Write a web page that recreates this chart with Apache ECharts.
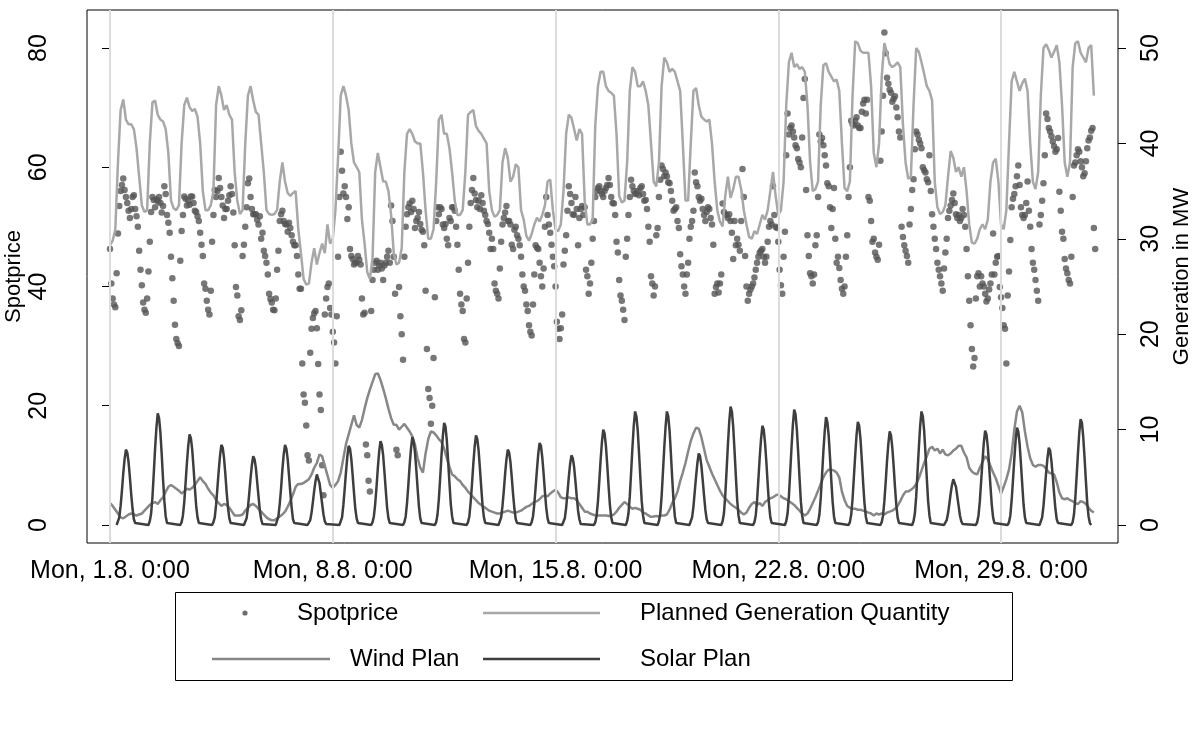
<!DOCTYPE html>
<html><head><meta charset="utf-8">
<script src="https://cdn.jsdelivr.net/npm/echarts@6/dist/echarts.min.js"></script>
<style>html,body{margin:0;padding:0;background:#fff}#c{width:1199px;height:738px}</style>
</head><body><div id="c"></div>
<script>
// ---- axis ticks ----
const tickHours = [0, 168, 336, 504, 672];
const tickLabels = ['Mon, 1.8. 0:00', 'Mon, 8.8. 0:00', 'Mon, 15.8. 0:00', 'Mon, 22.8. 0:00', 'Mon, 29.8. 0:00'];
const priceTicks = [0, 20, 40, 60, 80];
const genTicks = [0, 10, 20, 30, 40, 50];

// ---- Spotprice, hourly from Mon 1.8. 0:00 (one row per day) ----
const spotprice = [
46.3,40.5,38.0,37.0,36.5,42.2,48.9,53.5,56.0,57.0,58.1,56.2,55.0,54.0,52.7,51.5,53.0,55.0,55.3,53.0,51.8,50.0,46.0,42.8,
40.2,37.3,36.1,35.6,38.0,42.5,47.5,52.5,55.0,54.5,53.3,54.6,54.3,55.0,54.0,52.4,53.5,56.8,55.5,52.0,50.7,49.0,45.0,41.4,
37.6,33.6,31.2,30.5,30.0,44.3,49.3,52.0,55.1,54.7,53.6,54.4,53.7,55.1,55.1,54.0,52.7,52.5,51.8,51.0,49.0,47.0,45.1,40.5,
39.6,37.6,36.1,35.3,39.3,47.5,52.0,56.2,55.0,56.0,58.2,56.5,55.0,53.6,51.5,53.0,53.0,54.4,55.3,56.8,55.5,52.4,46.9,39.9,
38.5,35.0,34.4,36.0,45.1,47.0,50.0,53.3,57.3,58.1,55.0,53.0,52.1,52.1,52.1,51.2,50.4,51.8,48.0,49.0,46.0,45.1,44.0,42.0,
38.8,37.9,37.3,36.1,36.0,38.0,42.8,46.0,51.0,52.1,52.7,51.0,50.5,50.4,49.2,50.7,49.8,48.6,47.5,46.9,46.9,45.1,42.0,39.6,
39.6,27.1,21.9,20.5,16.7,11.7,10.8,28.9,32.9,34.7,35.5,35.9,33.0,27.0,21.9,19.3,10.0,5.0,35.3,38.0,39.9,40.5,36.4,35.3,
32.4,30.6,27.1,35.0,45.0,55.0,62.6,59.4,55.6,56.8,55.0,51.3,53.3,46.3,45.1,44.6,43.7,44.0,44.0,45.1,44.5,43.7,38.0,35.3,
35.6,13.5,11.7,7.4,5.6,35.9,41.1,42.8,44.0,44.3,42.8,43.5,44.0,43.0,41.1,43.5,44.0,45.0,46.0,44.0,53.6,51.0,45.0,38.8,
12.6,11.7,39.9,35.0,32.0,27.7,45.0,50.0,52.1,53.3,53.9,52.5,54.4,53.0,49.8,51.0,51.5,52.5,50.5,49.5,49.2,46.9,39.3,29.5,
22.8,21.3,17.0,20.0,28.0,38.2,51.0,53.3,52.1,53.3,53.0,50.4,49.8,50.5,48.0,46.9,51.5,51.0,53.3,53.3,52.7,50.0,47.0,42.8,
38.8,37.0,35.9,31.2,30.6,38.0,44.0,50.0,54.0,56.2,58.2,55.6,54.5,53.3,54.4,53.0,55.3,54.0,52.7,52.0,51.0,50.5,49.0,46.3,
48.0,46.3,40.5,39.3,38.8,38.0,43.0,47.5,50.4,51.5,52.4,53.5,51.0,51.0,50.4,47.0,46.3,49.5,50.0,48.6,48.0,46.9,45.0,42.0,
40.0,39.3,37.0,35.9,33.5,32.4,31.8,37.0,42.0,46.9,46.5,46.3,44.0,41.7,40.0,43.0,50.0,55.0,52.0,50.4,49.0,47.0,45.0,43.4,
40.0,34.1,32.9,31.2,33.0,35.3,43.7,46.0,48.6,52.7,56.8,55.5,54.0,52.1,52.0,55.0,53.0,46.9,51.5,53.0,53.5,52.0,53.3,42.8,
41.7,38.8,40.5,44.0,48.0,51.0,55.0,56.0,56.5,56.8,56.0,55.5,55.0,56.0,56.5,57.0,58.2,57.0,55.0,54.0,53.9,52.0,47.5,45.7,
41.1,38.5,37.6,36.1,34.4,45.0,48.0,52.0,55.0,57.9,56.8,56.0,55.5,55.6,56.0,55.3,56.5,56.8,55.5,54.4,54.5,53.0,50.0,47.5,
41.7,40.5,38.5,40.0,48.6,49.8,55.0,57.9,60.3,59.7,58.5,59.1,58.5,57.5,57.3,56.0,54.4,52.7,53.0,53.3,51.0,49.8,45.4,43.4,
42.0,40.0,38.8,42.0,44.0,48.0,50.0,51.0,52.7,59.1,57.5,56.8,55.0,54.4,54.7,53.0,52.0,51.0,52.5,53.3,53.0,51.5,50.4,47.0,
38.8,39.9,40.5,39.0,40.5,42.0,53.9,52.5,52.1,52.0,51.5,52.1,51.0,49.0,44.6,51.0,46.9,48.0,47.0,46.0,51.0,59.7,55.0,45.1,
40.0,37.6,38.8,39.5,40.0,40.5,41.5,42.8,44.0,45.0,45.7,46.0,46.3,45.0,44.0,45.0,47.5,50.0,51.0,50.4,56.8,52.0,50.0,49.8,
47.5,42.8,40.2,38.8,45.0,49.2,62.0,69.0,65.5,66.6,67.0,66.0,65.0,63.7,63.2,61.4,60.8,60.0,65.0,71.6,74.8,56.2,48.6,45.1,
42.2,41.7,40.5,42.0,46.9,48.6,55.0,65.5,64.3,64.9,63.7,62.0,60.3,57.3,56.8,53.3,49.8,53.0,56.5,48.0,44.0,45.0,43.1,41.1,
39.6,38.8,40.0,45.0,48.6,55.0,60.0,67.8,67.2,67.0,67.8,68.4,67.0,66.6,66.6,69.3,70.7,71.3,69.0,71.3,55.0,54.4,51.0,47.5,
48.0,45.7,45.0,44.5,47.0,61.1,66.0,72.0,82.6,79.1,75.0,74.0,73.0,72.5,71.0,71.5,71.9,70.0,68.4,66.0,65.0,50.0,48.3,46.9,
46.0,45.1,44.0,50.4,53.0,56.2,58.0,63.0,66.0,65.5,64.6,64.0,63.2,60.0,59.5,59.1,58.0,57.5,62.0,56.0,52.1,50.0,48.0,46.3,
44.0,42.8,41.7,40.5,39.3,43.0,45.7,48.0,51.5,52.7,53.6,54.5,55.6,54.0,52.1,51.5,52.0,51.0,51.5,53.0,52.0,50.0,46.3,41.7,
37.6,33.5,29.5,26.6,28.0,38.0,41.7,42.2,40.0,41.7,40.5,40.0,38.8,37.5,38.0,39.5,40.5,42.0,48.9,42.0,44.0,45.0,45.1,39.9,
38.2,36.4,33.5,32.9,27.1,38.5,42.5,47.8,53.3,54.7,55.5,56.8,58.5,60.3,57.0,53.3,52.0,51.5,52.0,54.0,57.6,52.7,50.0,46.3,
44.0,42.8,41.1,39.3,37.6,50.4,52.0,54.4,57.3,62.0,69.0,68.1,66.6,66.0,65.2,64.3,63.5,62.6,63.0,64.9,55.9,52.7,49.2,48.0,
44.6,43.0,42.2,41.1,40.5,45.0,55.0,60.3,60.8,62.0,63.0,62.6,61.0,60.0,58.5,59.0,61.0,63.2,64.5,65.0,66.1,66.6,49.8,46.3
];

// ---- Planned Generation Quantity (MW), every 2 hours (one row per day) ----
const plannedGen = [
29.3,29.8,31.0,38.0,43.5,44.6,42.5,42.0,42.0,41.5,39.5,36.5,
33.5,32.8,33.0,40.0,44.3,44.5,43.0,42.5,42.3,41.5,39.0,34.0,
33.2,33.0,33.5,40.0,44.0,44.8,43.8,43.4,43.6,42.8,40.0,35.0,
33.0,33.0,33.5,35.0,44.0,46.0,45.0,43.5,44.0,43.0,42.5,37.0,
34.0,32.6,33.0,40.0,45.0,46.0,44.5,43.3,43.0,40.0,37.0,33.0,
32.6,32.5,32.6,33.0,36.0,38.0,36.0,34.8,34.5,34.8,35.0,31.0,
28.5,25.8,25.2,25.3,27.5,29.0,27.3,28.5,29.5,28.5,31.5,29.5,
30.0,33.0,38.5,45.0,46.0,45.0,43.5,40.0,38.0,37.5,37.0,32.0,
29.5,26.5,25.8,28.0,37.0,39.0,37.5,36.0,36.0,35.0,32.5,28.5,
27.3,27.5,29.0,37.0,41.0,41.5,41.0,40.2,40.0,40.0,37.0,33.0,
30.0,30.0,31.0,36.0,42.5,43.0,41.0,41.0,39.5,37.0,34.0,32.5,
32.5,33.0,37.0,43.0,43.3,43.5,41.8,41.3,41.0,40.5,40.0,35.0,
33.0,32.3,32.5,33.0,38.0,39.5,38.5,36.0,36.5,37.8,37.5,33.0,
32.0,30.3,29.8,30.5,31.5,32.2,31.8,32.5,33.5,36.0,36.2,33.0,
31.0,30.8,31.5,35.0,41.0,43.0,42.7,41.5,40.3,41.5,41.0,34.0,
31.5,31.5,32.0,42.0,46.0,47.5,47.5,46.0,45.5,45.3,45.0,41.0,
34.5,33.8,34.0,38.0,45.5,48.0,47.5,46.0,46.0,46.5,45.5,44.0,
40.0,36.0,35.5,38.0,46.0,49.0,48.5,47.5,47.8,47.5,46.5,45.5,
40.0,34.0,34.0,40.0,45.5,45.8,44.0,42.8,42.5,42.3,42.5,40.0,
36.0,33.0,31.8,31.3,34.5,36.5,34.3,35.2,36.5,36.5,35.2,33.0,
31.5,30.2,30.0,30.8,30.5,31.5,32.5,32.0,33.0,35.0,37.0,34.5,
32.5,33.0,36.0,44.0,48.5,49.5,48.0,48.3,47.8,48.0,47.5,44.0,
38.0,35.0,35.2,36.0,44.0,48.2,48.4,47.5,47.0,46.5,46.7,45.5,
40.0,35.3,35.0,36.0,45.0,50.7,50.5,49.7,49.5,49.5,49.5,46.0,
39.0,37.5,40.0,47.0,50.5,49.5,48.3,48.0,48.2,48.5,48.0,42.0,
38.0,36.3,36.5,44.0,50.0,49.6,48.5,47.3,46.0,45.5,44.5,36.0,
33.3,32.6,32.8,33.5,36.5,39.2,38.5,37.0,37.5,36.5,37.5,35.0,
31.5,29.6,29.5,30.0,31.0,31.5,31.0,32.0,36.0,38.0,38.4,36.0,
31.5,31.0,33.0,40.0,46.5,47.5,46.5,45.5,46.3,46.8,45.5,40.0,
36.0,35.2,37.0,45.0,50.0,50.4,49.8,49.0,49.6,50.3,48.5,44.0,
38.0,36.5,38.0,48.0,50.5,50.7,49.5,49.0,48.5,50.0,50.3,45.0
];

// ---- Wind Plan (MW), every 2 hours ----
const windPlan = [
2.3,2.0,1.6,1.2,0.8,0.7,0.9,1.1,1.2,1.1,1.0,1.1,
1.2,1.5,1.8,2.1,2.3,2.4,2.2,2.6,2.9,3.5,4.0,4.2,
4.0,3.8,3.6,3.3,3.5,3.8,3.7,3.9,4.2,4.6,5.0,4.6,
4.3,3.8,3.4,3.1,2.6,2.3,2.0,2.2,2.1,1.8,1.4,1.0,
1.0,1.0,1.1,1.5,1.8,2.1,2.2,2.0,1.7,1.4,1.1,0.8,
0.6,0.5,0.5,0.7,0.9,1.1,1.4,1.9,2.5,3.2,4.0,4.3,
4.3,4.4,4.6,4.8,5.3,6.0,6.5,7.4,7.2,6.2,5.2,4.2,
3.9,4.2,4.6,5.5,7.0,8.5,9.5,10.5,11.5,10.5,10.2,11.0,
12.2,13.3,14.2,15.0,15.8,15.9,15.2,14.3,13.3,12.2,11.2,10.5,
10.5,10.0,10.3,10.6,10.2,9.8,9.3,8.4,7.0,6.0,5.5,7.5,
9.0,9.8,9.7,9.4,9.0,8.7,8.0,7.0,6.1,5.3,5.1,4.8,
4.6,4.2,3.9,3.5,3.2,2.9,2.6,2.3,2.1,1.9,1.7,1.5,
1.4,1.3,1.2,1.2,1.3,1.4,1.5,1.4,1.3,1.3,1.4,1.5,
1.7,1.9,2.0,2.2,2.4,2.5,2.7,3.0,3.1,3.0,3.3,3.5,
3.7,3.4,2.9,2.8,2.8,2.9,2.8,2.8,2.6,2.2,1.8,1.4,
1.4,1.2,1.1,1.0,1.0,1.0,1.0,1.0,0.95,1.0,1.1,1.4,
1.8,2.1,2.4,2.2,1.9,1.7,1.8,1.7,1.6,1.3,1.2,1.0,
0.85,0.9,0.95,0.9,1.0,1.0,1.1,1.6,2.3,2.8,3.5,4.6,
5.5,6.5,7.7,8.8,9.6,10.2,10.1,9.2,8.0,6.8,6.1,5.4,
4.8,4.2,3.6,3.1,2.8,2.5,2.2,2.0,1.8,1.6,1.3,1.1,
1.3,1.8,2.2,2.4,2.1,2.3,2.0,2.4,2.6,2.8,2.9,3.1,
3.2,3.0,2.8,2.7,2.5,2.3,2.1,1.8,1.5,1.2,1.0,1.2,
1.7,2.3,2.9,3.6,4.3,5.0,5.5,5.8,5.8,5.7,5.5,5.0,
3.5,2.6,2.0,1.8,1.7,1.7,1.6,1.6,1.5,1.4,1.3,1.2,
1.0,1.2,1.1,1.2,1.1,1.3,1.4,1.5,1.7,2.0,2.5,3.1,
3.5,3.5,3.7,3.9,4.3,4.9,5.7,6.5,7.2,8.0,8.2,7.8,
8.0,7.5,7.9,7.4,7.3,7.5,7.8,8.0,8.3,8.3,7.6,7.1,
6.0,5.6,5.4,5.3,6.0,6.6,7.2,6.9,6.2,5.5,4.9,4.1,
3.3,4.0,4.8,5.8,7.5,10.0,11.9,12.5,11.8,9.8,8.2,7.0,
6.3,6.1,6.3,6.3,6.2,5.9,5.5,5.4,5.3,4.5,3.4,2.8,
2.7,2.8,2.6,2.5,2.3,2.2,2.5,2.4,2.2,1.8,1.5,1.3
];

// ---- Solar Plan (MW), hourly from 5:00 to 20:00 of each day ----
const solarFirstHour = 5;
const solarPlan = [
[0,0.2,0.8,2.0,3.6,5.4,6.9,7.9,7.6,6.6,5.0,3.2,1.7,0.6,0.2,0],
[0,0.4,1.2,2.9,5.4,8.0,10.2,11.7,11.2,9.7,7.4,4.8,2.5,0.9,0.2,0],
[0,0.3,1.0,2.4,4.4,6.5,8.3,9.5,9.1,7.9,6.0,3.9,2.0,0.8,0.2,0],
[0,0.3,0.8,2.1,3.9,5.7,7.3,8.4,8.1,7.0,5.3,3.4,1.8,0.7,0.2,0],
[0,0.2,0.7,1.8,3.3,4.9,6.3,7.2,6.9,6.0,4.5,3.0,1.5,0.6,0.1,0],
[0,0.2,0.9,2.2,3.8,5.8,7.4,8.4,8.0,6.9,5.2,3.4,1.8,0.6,0.2,0],
[0,0.2,0.5,1.3,2.4,3.6,4.6,5.3,5.1,4.4,3.3,2.2,1.1,0.4,0.1,0],
[0,0.2,0.8,2.1,3.8,5.6,7.2,8.3,8.0,6.9,5.2,3.4,1.7,0.7,0.2,0],
[0,0.3,0.9,2.2,4.0,6.0,7.7,8.8,8.4,7.3,5.5,3.6,1.8,0.7,0.2,0],
[0,0.3,0.9,2.3,4.2,6.3,8.0,9.2,8.8,7.6,5.8,3.8,1.9,0.7,0.2,0],
[0,0.3,1.1,2.7,4.9,7.3,9.3,10.7,10.3,8.9,6.7,4.4,2.2,0.9,0.2,0],
[0,0.3,0.9,2.4,4.3,6.4,8.2,9.4,9.0,7.8,5.9,3.9,2.0,0.8,0.2,0],
[0,0.2,0.8,2.0,3.6,5.4,6.9,7.9,7.6,6.6,5.0,3.2,1.7,0.6,0.2,0],
[0,0.3,0.9,2.2,4.0,5.8,7.5,8.6,8.3,7.1,5.4,3.5,1.8,0.7,0.2,0],
[0,0.2,0.7,1.8,3.4,5.0,6.4,7.3,7.0,6.1,4.6,3.0,1.5,0.6,0.1,0],
[0,0.3,1.0,2.5,4.6,6.8,8.7,10.0,9.6,8.3,6.3,4.1,2.1,0.8,0.2,0],
[0,0.4,1.2,3.0,5.5,8.1,10.4,11.9,11.4,9.9,7.5,4.9,2.5,1.0,0.2,0],
[0,0.4,1.2,3.0,5.5,8.1,10.3,11.9,11.4,9.9,7.5,4.9,2.5,0.9,0.2,0],
[0,0.2,0.8,1.9,3.5,5.1,6.5,7.5,7.2,6.2,4.7,3.1,1.6,0.6,0.2,0],
[0,0.4,1.2,3.1,5.7,8.4,10.8,12.4,11.9,10.3,7.8,5.1,2.6,1.0,0.2,0],
[0,0.3,1.0,2.6,4.8,7.1,9.0,10.4,10.0,8.6,6.6,4.3,2.2,0.8,0.2,0],
[0,0.4,1.2,3.0,5.6,8.2,10.5,12.1,11.6,10.0,7.6,5.0,2.5,1.0,0.2,0],
[0,0.3,1.1,2.8,5.2,7.7,9.8,11.3,10.8,9.4,7.1,4.6,2.4,0.9,0.2,0],
[0,0.3,1.1,2.7,5.0,7.3,9.4,10.8,10.4,9.0,6.8,4.4,2.3,0.9,0.2,0],
[0,0.3,1.0,2.5,4.5,6.7,8.5,9.8,9.4,8.1,6.2,4.0,2.1,0.8,0.2,0],
[0,0.4,1.2,3.0,5.5,8.1,10.4,11.9,11.4,9.9,7.5,4.9,2.5,1.0,0.2,0],
[0,0.1,0.5,1.2,2.2,3.3,4.2,4.8,4.6,4.0,3.0,2.0,1.0,0.4,0.1,0],
[0,0.3,1.0,2.5,4.6,6.7,8.6,9.9,9.5,8.2,6.2,4.1,2.1,0.8,0.2,0],
[0,0.3,1.0,2.6,4.7,6.9,8.9,10.2,9.8,8.5,6.4,4.2,2.1,0.8,0.2,0],
[0,0.2,0.8,2.0,3.7,5.5,7.0,8.1,7.8,6.7,5.1,3.3,1.7,0.6,0.2,0],
[0,0.3,1.1,2.8,5.1,7.5,9.7,11.1,10.7,9.2,7.0,4.6,2.3,0.9,0.2,0]
];

// ---- legend entries ----
const legendNames = ['Spotprice', 'Planned Generation Quantity', 'Wind Plan', 'Solar Plan'];

// ---- build series data (x = hours since Mon 1.8. 0:00) ----
const spotData = spotprice.map((v, i) => [i, v]);
const pgData = plannedGen.map((v, i) => [i * 2, v]);
const windData = windPlan.map((v, i) => [i * 2, v]);
const solarData = [];
solarPlan.forEach((day, d) => day.forEach((v, j) => solarData.push([d * 24 + solarFirstHour + j, v])));

const FONT = '"Liberation Sans", Arial, Helvetica, sans-serif';
const C_SPOT = '#555555', C_PG = '#a8a8a8', C_WIND = '#878787', C_SOLAR = '#3e3e3e';
const LEG_FONT = '24px ' + FONT;

const chart = echarts.init(document.getElementById('c'));
chart.setOption({
  animation: false,
  backgroundColor: '#ffffff',
  textStyle: { fontFamily: FONT },
  grid: { left: 87, right: 81, top: 10, bottom: 195, show: true, borderColor: '#000', borderWidth: 1,
          backgroundColor: 'transparent', containLabel: false, outerBoundsMode: 'none' },
  xAxis: {
    type: 'value', min: -17.35, max: 760.2,
    axisLine: { show: false },
    axisTick: { show: true, customValues: tickHours, length: 8, lineStyle: { color: '#000', width: 1 } },
    axisLabel: { customValues: tickHours, formatter: v => tickLabels[tickHours.indexOf(v)], fontSize: 25, color: '#000', margin: 16, fontFamily: FONT },
    splitLine: { show: false }
  },
  yAxis: [
    {
      type: 'value', min: -3.02, max: 86.37, position: 'left',
      name: 'Spotprice', nameLocation: 'middle', nameGap: 62, nameMoveOverlap: false,
      nameTextStyle: { fontSize: 22, color: '#000', fontFamily: FONT },
      axisLine: { show: false },
      axisTick: { show: true, customValues: priceTicks, length: 8, lineStyle: { color: '#000' } },
      axisLabel: { customValues: priceTicks, rotate: 90, fontSize: 25, color: '#000', margin: 35, fontFamily: FONT },
      splitLine: { show: false }
    },
    {
      type: 'value', min: -1.887, max: 53.98, position: 'right',
      name: 'Generation in MW', nameLocation: 'middle', nameGap: 53, nameMoveOverlap: false,
      nameTextStyle: { fontSize: 22, color: '#000', fontFamily: FONT },
      axisLine: { show: false },
      axisTick: { show: true, customValues: genTicks, length: 8, lineStyle: { color: '#000' } },
      axisLabel: { customValues: genTicks, rotate: 90, fontSize: 25, color: '#000', margin: 21, fontFamily: FONT },
      splitLine: { show: false }
    }
  ],
  series: [
    {
      type: 'line', data: [], z: 1, silent: true,
      markLine: { silent: true, symbol: ['none', 'none'], label: { show: false },
        lineStyle: { color: '#dcdcdc', width: 2, type: 'solid' },
        data: tickHours.map(h => ({ xAxis: h })) }
    },
    { name: legendNames[0], type: 'scatter', data: spotData, yAxisIndex: 0, symbol: 'circle', symbolSize: 6.5,
      itemStyle: { color: C_SPOT }, z: 2 },
    { name: legendNames[1], type: 'line', data: pgData, yAxisIndex: 1, showSymbol: false,
      lineStyle: { color: C_PG, width: 2.5 }, z: 3 },
    { name: legendNames[2], type: 'line', data: windData, yAxisIndex: 1, showSymbol: false,
      lineStyle: { color: C_WIND, width: 2.5 }, z: 4 },
    { name: legendNames[3], type: 'line', data: solarData, yAxisIndex: 1, showSymbol: false,
      lineStyle: { color: C_SOLAR, width: 2.5 }, z: 5 }
  ],
  graphic: [
    { type: 'rect', shape: { x: 175.5, y: 592.5, width: 837, height: 88 }, style: { fill: '#fff', stroke: '#000', lineWidth: 1 } },
    { type: 'circle', shape: { cx: 245, cy: 613, r: 2.6 }, style: { fill: '#6e6e6e' } },
    { type: 'text', x: 297, y: 613, style: { text: legendNames[0], font: LEG_FONT, fill: '#000', textVerticalAlign: 'middle' } },
    { type: 'line', shape: { x1: 483, y1: 613, x2: 600, y2: 613 }, style: { stroke: C_PG, lineWidth: 2.5 } },
    { type: 'text', x: 640, y: 613, style: { text: legendNames[1], font: LEG_FONT, fill: '#000', textVerticalAlign: 'middle' } },
    { type: 'line', shape: { x1: 212, y1: 659, x2: 330, y2: 659 }, style: { stroke: C_WIND, lineWidth: 2.5 } },
    { type: 'text', x: 350, y: 659, style: { text: legendNames[2], font: LEG_FONT, fill: '#000', textVerticalAlign: 'middle' } },
    { type: 'line', shape: { x1: 483, y1: 659, x2: 600, y2: 659 }, style: { stroke: C_SOLAR, lineWidth: 2.5 } },
    { type: 'text', x: 640, y: 659, style: { text: legendNames[3], font: LEG_FONT, fill: '#000', textVerticalAlign: 'middle' } }
  ]
});
</script>
</body></html>
